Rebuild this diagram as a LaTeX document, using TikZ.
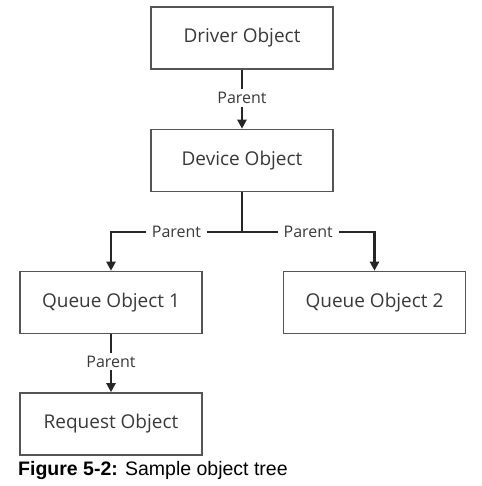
\documentclass[tikz,border=0pt]{standalone}
\usepackage{fontspec}
\setmainfont{Open Sans}
\newfontfamily\capfont{Liberation Sans}
\usetikzlibrary{arrows.meta}
\definecolor{boxline}{HTML}{555555}
\definecolor{txt}{HTML}{3A3A3A}
\begin{document}
\begin{tikzpicture}[x=1pt,y=-1pt,
  obj/.style={draw=boxline,line width=1.6pt,fill=white,minimum width=182pt,minimum height=62pt,inner sep=0pt,text=txt,font=\fontsize{19}{22}\selectfont},
  lbl/.style={fill=white,inner xsep=6pt,inner ysep=3pt,text=txt,font=\fontsize{16}{19}\selectfont},
  conn/.style={draw=black!85,line width=2.2pt,-{Triangle[length=9pt,width=9pt]}},
  plain/.style={draw=black!85,line width=2.2pt}]
\useasboundingbox[fill=white] (0,0) rectangle (481,486);
\node[obj] (drv) at (242,38) {Driver Object};
\node[obj] (dev) at (242,160.5) {Device Object};
\node[obj] (q1) at (111,302.5) {Queue Object 1};
\node[obj] (q2) at (374.5,302.5) {Queue Object 2};
\node[obj] (req) at (111,424) {Request Object};
\coordinate (j) at (242,232);
\coordinate (jl) at (111,232);
\coordinate (jr) at (374.5,232);
\draw[conn] (drv) -- node[lbl,pos=0.48]{Parent} (dev);
\draw[plain] (dev) -- (j);
\draw[conn] (j) -- node[lbl,pos=0.5]{Parent} (jl) -- (q1);
\draw[conn] (j) -- node[lbl,pos=0.5]{Parent} (jr) -- (q2);
\draw[conn] (q1) -- node[lbl,pos=0.47]{Parent} (req);
\node[anchor=west,inner sep=0pt,font=\capfont\fontsize{19.5}{22}\selectfont] (cap) at (18,470) {\textbf{Figure 5-2:} Sample object tree};
\end{tikzpicture}
\end{document}
